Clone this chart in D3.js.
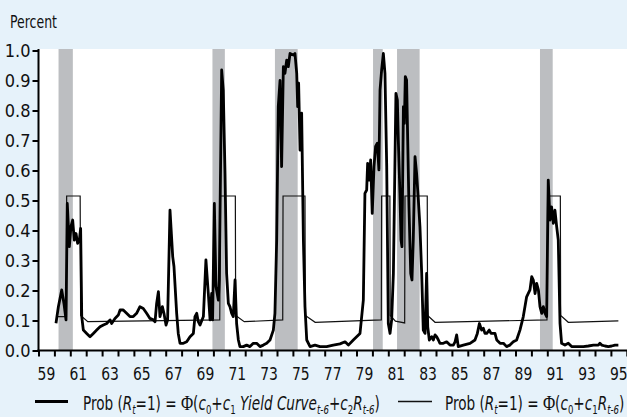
<!DOCTYPE html>
<html>
<head>
<meta charset="utf-8">
<script src="https://cdn.jsdelivr.net/npm/d3@7"></script>
<style>
  html, body { margin: 0; padding: 0; background: #e6f2fa; }
  svg { display: block; }
  text { font-family: "DejaVu Sans Condensed", "Liberation Sans", sans-serif; fill: #111; }
</style>
</head>
<body>
<div id="chart"></div>
<script>
// recession bands (years)
const recStart = [1960.26, 1969.94, 1973.87, 1980.04, 1981.55, 1990.54];
const recEnd   = [1961.16, 1970.72, 1975.30, 1980.65, 1982.97, 1991.34];

// thin line: Prob(Rt=1) = Phi(c0 + c1 R t-6)
const thinYears = [1960.14, 1960.76, 1960.77, 1961.62, 1961.65, 1962.10, 1970.40, 1970.44, 1971.38, 1971.40,
  1971.94, 1974.36, 1974.38, 1975.76, 1975.78, 1976.40, 1980.56, 1980.58, 1981.10, 1981.12, 1981.45, 1982.03,
  1982.05, 1983.45, 1983.47, 1983.94, 1990.98, 1991.02, 1991.82, 1991.84, 1992.32, 1995.47];
const thinValues = [0.113, 0.113, 0.515, 0.515, 0.117, 0.096, 0.102, 0.515, 0.515, 0.117,
  0.096, 0.102, 0.515, 0.515, 0.117, 0.094, 0.102, 0.515, 0.515, 0.117, 0.098, 0.092,
  0.515, 0.515, 0.117, 0.094, 0.102, 0.515, 0.515, 0.117, 0.094, 0.099];

// thick line: Prob(Rt=1) = Phi(c0 + c1 Yield Curve t-6 + c2 R t-6)
const thickYears = [1960.10, 1960.25, 1960.46, 1960.60, 1960.73, 1960.81, 1960.94, 1961.04, 1961.15, 1961.25,
  1961.36, 1961.46, 1961.57, 1961.65, 1961.72, 1961.82, 1962.03, 1962.24, 1962.45, 1962.66,
  1962.87, 1963.08, 1963.29, 1963.50, 1963.60, 1963.81, 1964.02, 1964.13, 1964.33, 1964.54,
  1964.75, 1964.96, 1965.17, 1965.38, 1965.59, 1965.80, 1966.01, 1966.22, 1966.33, 1966.43,
  1966.54, 1966.64, 1966.79, 1966.89, 1967.02, 1967.12, 1967.27, 1967.44, 1967.52, 1967.69,
  1967.79, 1967.90, 1968.11, 1968.32, 1968.53, 1968.74, 1968.84, 1968.95, 1969.05, 1969.16,
  1969.37, 1969.53, 1969.68, 1969.79, 1969.89, 1969.95, 1970.06, 1970.16, 1970.31, 1970.37,
  1970.52, 1970.62, 1970.73, 1970.83, 1970.94, 1971.04, 1971.15, 1971.25, 1971.36, 1971.46,
  1971.57, 1971.67, 1971.88, 1972.09, 1972.30, 1972.51, 1972.72, 1972.93, 1973.14, 1973.35,
  1973.56, 1973.77, 1973.87, 1973.98, 1974.08, 1974.19, 1974.29, 1974.40, 1974.50, 1974.61,
  1974.71, 1974.82, 1975.03, 1975.13, 1975.24, 1975.30, 1975.36, 1975.45, 1975.55, 1975.66,
  1975.76, 1975.87, 1976.08, 1976.39, 1976.70, 1977.12, 1977.54, 1977.96, 1978.28, 1978.49,
  1978.80, 1979.22, 1979.43, 1979.53, 1979.64, 1979.70, 1979.80, 1979.89, 1979.99, 1980.10,
  1980.20, 1980.31, 1980.41, 1980.48, 1980.58, 1980.69, 1980.79, 1980.90, 1981.00, 1981.11,
  1981.21, 1981.32, 1981.48, 1981.57, 1981.63, 1981.73, 1981.80, 1981.86, 1981.95, 1982.01,
  1982.07, 1982.15, 1982.22, 1982.30, 1982.41, 1982.49, 1982.57, 1982.68, 1982.78, 1982.89,
  1982.99, 1983.10, 1983.20, 1983.31, 1983.41, 1983.48, 1983.58, 1983.73, 1983.83, 1983.94,
  1984.04, 1984.15, 1984.25, 1984.46, 1984.67, 1984.88, 1985.09, 1985.20, 1985.30, 1985.40,
  1985.72, 1986.14, 1986.45, 1986.60, 1986.73, 1986.87, 1986.98, 1987.08, 1987.19, 1987.35,
  1987.46, 1987.61, 1987.71, 1987.82, 1988.03, 1988.24, 1988.44, 1988.65, 1988.86, 1989.07,
  1989.28, 1989.49, 1989.70, 1989.91, 1990.02, 1990.12, 1990.23, 1990.33, 1990.44, 1990.54,
  1990.65, 1990.75, 1990.86, 1990.96, 1991.06, 1991.17, 1991.27, 1991.38, 1991.48, 1991.59,
  1991.69, 1991.80, 1991.90, 1992.11, 1992.32, 1992.53, 1992.85, 1993.27, 1993.58, 1993.90,
  1994.21, 1994.31, 1994.42, 1994.63, 1994.84, 1995.05, 1995.26, 1995.47];
const thickValues = [0.091, 0.146, 0.202, 0.157, 0.102, 0.490, 0.346, 0.413, 0.435, 0.368,
  0.390, 0.357, 0.368, 0.407, 0.113, 0.068, 0.057, 0.046, 0.057, 0.068,
  0.079, 0.085, 0.090, 0.102, 0.090, 0.107, 0.118, 0.135, 0.135, 0.124,
  0.113, 0.113, 0.124, 0.146, 0.140, 0.124, 0.107, 0.102, 0.096, 0.157,
  0.196, 0.113, 0.146, 0.124, 0.085, 0.102, 0.468, 0.313, 0.280, 0.124,
  0.057, 0.024, 0.024, 0.029, 0.046, 0.057, 0.113, 0.124, 0.096, 0.085,
  0.113, 0.302, 0.190, 0.102, 0.190, 0.102, 0.490, 0.213, 0.168, 0.235,
  0.935, 0.868, 0.590, 0.257, 0.157, 0.146, 0.124, 0.113, 0.235, 0.090,
  0.035, 0.013, 0.013, 0.018, 0.013, 0.024, 0.024, 0.013, 0.018, 0.024,
  0.035, 0.068, 0.124, 0.368, 0.813, 0.900, 0.613, 0.946, 0.924, 0.968,
  0.946, 0.990, 0.985, 0.990, 0.924, 0.813, 0.891, 0.668, 0.791, 0.368,
  0.146, 0.035, 0.013, 0.018, 0.013, 0.013, 0.018, 0.022, 0.029, 0.018,
  0.035, 0.057, 0.168, 0.524, 0.535, 0.624, 0.568, 0.635, 0.457, 0.613,
  0.680, 0.691, 0.602, 0.868, 0.935, 0.990, 0.924, 0.613, 0.090, 0.057,
  0.102, 0.257, 0.857, 0.835, 0.702, 0.524, 0.368, 0.346, 0.813, 0.757,
  0.913, 0.902, 0.702, 0.479, 0.257, 0.235, 0.368, 0.646, 0.590, 0.502,
  0.413, 0.257, 0.068, 0.057, 0.257, 0.079, 0.035, 0.046, 0.035, 0.052,
  0.046, 0.035, 0.024, 0.024, 0.029, 0.018, 0.018, 0.029, 0.052, 0.013,
  0.018, 0.024, 0.035, 0.057, 0.090, 0.068, 0.074, 0.057, 0.057, 0.068,
  0.057, 0.057, 0.057, 0.035, 0.024, 0.024, 0.013, 0.018, 0.029, 0.035,
  0.068, 0.113, 0.179, 0.202, 0.246, 0.235, 0.190, 0.224, 0.202, 0.146,
  0.124, 0.146, 0.124, 0.113, 0.568, 0.435, 0.479, 0.424, 0.468, 0.413,
  0.368, 0.090, 0.024, 0.018, 0.024, 0.013, 0.013, 0.013, 0.015, 0.018,
  0.018, 0.024, 0.018, 0.015, 0.013, 0.015, 0.018, 0.018];

const yTicks = [0, 0.1, 0.2, 0.3, 0.4, 0.5, 0.6, 0.7, 0.8, 0.9, 1.0];
const xLabels = ["59", "61", "63", "65", "67", "69", "71", "73", "75", "77", "79", "81", "83", "85", "87", "89", "91", "93", "95"];

const W = 627, H = 417;
const svg = d3.select("#chart").append("svg")
  .attr("width", W).attr("height", H);

svg.append("rect").attr("width", W).attr("height", H).attr("fill", "#e6f2fa");

const x = d3.scaleLinear().domain([1959, 1996]).range([38.5, 626.8]);
const y = d3.scaleLinear().domain([0, 1]).range([350.5, 50.5]);

// white plot area
svg.append("rect")
  .attr("x", x(1959)).attr("y", y(1) - 1.5)
  .attr("width", W - x(1959)).attr("height", y(0) - y(1) + 1.5)
  .attr("fill", "#fff");

// recession shading
svg.append("g").selectAll("rect")
  .data(recStart)
  .join("rect")
  .attr("x", d => x(d))
  .attr("y", y(1) - 1.5)
  .attr("width", (d, i) => x(recEnd[i]) - x(d))
  .attr("height", y(0) - y(1) + 1.5)
  .attr("fill", "#bcbec1");

// lines
const thin = thinYears.map((d, i) => [d, thinValues[i]]);
const thick = thickYears.map((d, i) => [d, thickValues[i]]);
const line = d3.line().x(d => x(d[0])).y(d => y(d[1]));

svg.append("path").datum(thin)
  .attr("d", line).attr("fill", "none")
  .attr("stroke", "#111").attr("stroke-width", 1.2);

svg.append("path").datum(thick)
  .attr("d", line).attr("fill", "none")
  .attr("stroke", "#000").attr("stroke-width", 2.8)
  .attr("stroke-linejoin", "round");

// y axis
const yAxis = svg.append("g")
  .attr("transform", "translate(" + x(1959) + ",0)")
  .call(d3.axisLeft(y).tickValues(yTicks).tickFormat(d3.format(".1f")).tickSize(6).tickPadding(2));
yAxis.select(".domain").attr("stroke-width", 2).attr("d", "M0," + (y(1) - 1.5) + "V" + (y(0) + 1));
yAxis.selectAll(".tick line").attr("stroke-width", 2);
yAxis.selectAll(".tick text").attr("font-size", 18).attr("font-family", null).attr("fill", "#111");

// x axis: a tick for every year, labels centred on odd years
const xAxis = svg.append("g")
  .attr("transform", "translate(0," + y(0) + ")")
  .call(d3.axisBottom(x).tickValues(d3.range(1959, 1997)).tickFormat("").tickSize(6));
xAxis.select(".domain").attr("stroke-width", 2).attr("d", "M" + (x(1959) - 1) + ",0H" + W);
xAxis.selectAll(".tick line").attr("stroke-width", 2);

svg.append("g").selectAll("text")
  .data(xLabels)
  .join("text")
  .attr("x", d => x(1900 + (+d) + 0.5))
  .attr("y", 380)
  .attr("text-anchor", "middle")
  .attr("font-size", 18)
  .attr("transform", d => {
    const cx = x(1900 + (+d) + 0.5);
    return "translate(" + cx + ",0) scale(0.86,1) translate(" + (-cx) + ",0)";
  })
  .text(d => d);

// narrow lettering: squeeze a text horizontally to a given width
function squeeze(g, x0, y0, width) {
  const w = g.node().getBBox().width;
  const k = width / w;
  g.attr("transform", "translate(" + x0 + "," + y0 + ") scale(" + k + ",1)");
  return k;
}

const pg = svg.append("g");
pg.append("text").attr("font-size", 17.5).text("Percent");
squeeze(pg, 10, 27.7, 47);

// legend
function legendText(parts) {
  const g = svg.append("g");
  const t = g.append("text").attr("font-size", 19);
  let shifted = false;
  parts.forEach(p => {
    const s = t.append("tspan").text(p.t);
    if (p.i) s.attr("font-style", "italic");
    if (p.f) s.style("font-family", p.f).attr("font-size", 21);
    if (p.s) {
      s.attr("font-size", 12);
      if (!shifted) { s.attr("dy", 4); shifted = true; }
    } else if (shifted) { s.attr("dy", -4); shifted = false; }
  });
  return g;
}

svg.append("line").attr("x1", 35).attr("x2", 68).attr("y1", 401.5).attr("y2", 401.5)
  .attr("stroke", "#000").attr("stroke-width", 3);
const leg1 = legendText([
  {t: "Prob ("}, {t: "R", i: 1}, {t: "t", i: 1, s: 1}, {t: "=1) = "},
  {t: "Φ", f: "'Liberation Serif', serif"}, {t: "("}, {t: "c", i: 1}, {t: "0", s: 1},
  {t: "+"}, {t: "c", i: 1}, {t: "1", s: 1}, {t: " Yield Curve", i: 1}, {t: "t-6", i: 1, s: 1},
  {t: "+"}, {t: "c", i: 1}, {t: "2", s: 1}, {t: "R", i: 1}, {t: "t-6", i: 1, s: 1}, {t: ")"}
]);
const k = squeeze(leg1, 83, 409.5, 297);

svg.append("line").attr("x1", 398).attr("x2", 432).attr("y1", 401.5).attr("y2", 401.5)
  .attr("stroke", "#111").attr("stroke-width", 1.3);
const leg2 = legendText([
  {t: "Prob ("}, {t: "R", i: 1}, {t: "t", i: 1, s: 1}, {t: "=1) = "},
  {t: "Φ", f: "'Liberation Serif', serif"}, {t: "("}, {t: "c", i: 1}, {t: "0", s: 1},
  {t: "+"}, {t: "c", i: 1}, {t: "1", s: 1}, {t: "R", i: 1}, {t: "t-6", i: 1, s: 1}, {t: ")"}
]);
leg2.attr("transform", "translate(445,409.5) scale(" + k + ",1)");
</script>
</body>
</html>
